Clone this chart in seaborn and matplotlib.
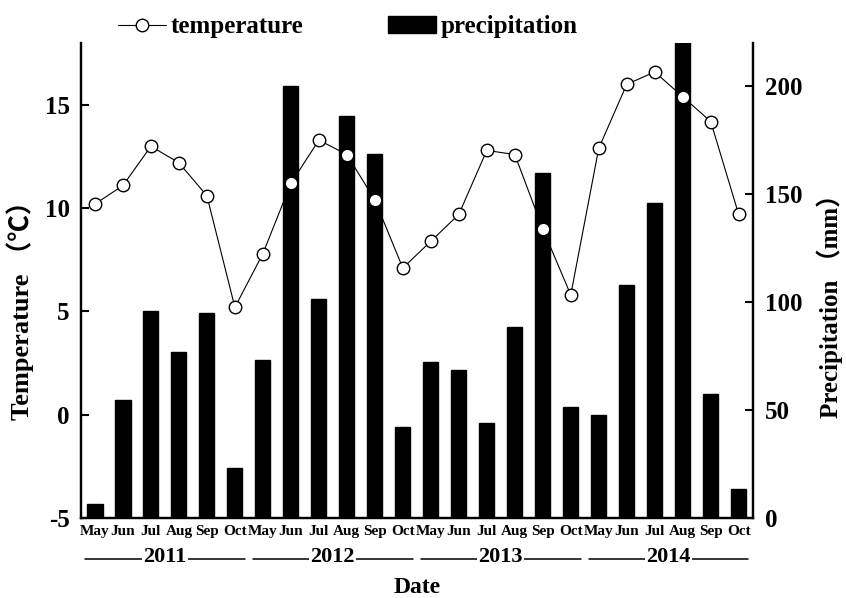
import matplotlib
matplotlib.use("Agg")
import matplotlib.pyplot as plt
import matplotlib.transforms as mtransforms
import seaborn as sns
import pandas as pd

# data (May-Oct, 2011-2014)
months = ["May", "Jun", "Jul", "Aug", "Sep", "Oct"] * 4
years = ["2011", "2012", "2013", "2014"]
temperature = [10.2, 11.1, 13.0, 12.2, 10.6, 5.2,
               7.8, 11.2, 13.3, 12.6, 10.4, 7.1,
               8.4, 9.7, 12.8, 12.6, 9.0, 5.8,
               12.9, 16.0, 16.6, 15.4, 14.2, 9.7]
precipitation = [6.5, 54.6, 96.0, 77.0, 94.8, 23.3,
                 73.0, 200.0, 101.2, 186.3, 168.8, 42.3,
                 72.4, 68.5, 44.1, 88.6, 159.6, 51.2,
                 47.7, 107.9, 146.0, 228.0, 57.3, 13.3]

df = pd.DataFrame({"idx": range(len(months)), "month": months,
                   "temperature": temperature, "precipitation": precipitation})

sns.set_style("white")
plt.rcParams["font.family"] = ["Liberation Serif", "Noto Sans CJK SC"]
plt.rcParams["font.weight"] = "bold"
plt.rcParams["axes.unicode_minus"] = False
for k in ("text.color", "axes.labelcolor", "xtick.color", "ytick.color"):
    plt.rcParams[k] = "black"

fig = plt.figure(figsize=(8.46, 5.98), dpi=100)
ax1 = fig.add_axes([0.0957, 0.134, 0.794, 0.794])
ax2 = ax1.twinx()

sns.barplot(data=df, x="idx", y="precipitation", ax=ax2, color="black",
            width=0.54, saturation=1, edgecolor="black")
sns.lineplot(data=df, x="idx", y="temperature", ax=ax1, color="black",
             linewidth=0.8, marker="o", markersize=9, markerfacecolor="white",
             markeredgecolor="black", markeredgewidth=1)

ax1.set_zorder(ax2.get_zorder() + 1)
ax1.patch.set_visible(False)

ax1.set_xlim(-0.5, len(months) - 0.5)
ax1.set_ylim(-5, 18)
ax1.set_yticks([-5, 0, 5, 10, 15])
ax2.set_ylim(0, 220)
ax2.set_yticks([0, 50, 100, 150, 200])

ax1.set_xticks(df["idx"])
ax1.set_xticklabels(months, fontsize=11, fontweight="bold")
ax1.tick_params(axis="x", length=0, pad=5)
ax1.tick_params(axis="y", direction="in", length=6, width=1.5, labelsize=18, pad=8)
ax2.tick_params(axis="y", direction="in", length=6, width=1.5, labelsize=18, pad=9)

for ax in (ax1, ax2):
    ax.spines["top"].set_visible(False)
    for s in ("left", "right", "bottom"):
        ax.spines[s].set_linewidth(1.6)
        ax.spines[s].set_color("black")

ax1.set_xlabel("Date", fontsize=17, fontweight="bold")
ax1.xaxis.set_label_coords(0.5, -0.125)
ax1.set_ylabel("Temperature （℃）", fontsize=19, fontweight="bold")
ax1.yaxis.set_label_coords(-0.07, 0.45)
ax2.set_ylabel("Precipitation （mm）", fontsize=18, fontweight="bold")
ax2.yaxis.set_label_coords(1.095, 0.46)

# year rows under the month labels
trans = mtransforms.blended_transform_factory(ax1.transData, ax1.transAxes)
for i, yr in enumerate(years):
    start, end = 6 * i - 0.35, 6 * i + 5.35
    ax1.plot([start, end], [-0.086, -0.086], color="black", lw=1.1,
             transform=trans, clip_on=False)
    ax1.text(6 * i + 2.5, -0.082, yr, transform=trans, ha="center", va="center",
             fontsize=16, fontweight="bold",
             bbox=dict(facecolor="white", edgecolor="none", pad=1))

handles = [ax1.lines[0], ax2.patches[0]]
fig.legend(handles, ["temperature", "precipitation"], loc="upper left",
           bbox_to_anchor=(0.113, 1.012), ncol=2, frameon=False, fontsize=18,
           handlelength=1.9, handletextpad=0.2, columnspacing=3.4)

fig.savefig("out.png", dpi=100)
